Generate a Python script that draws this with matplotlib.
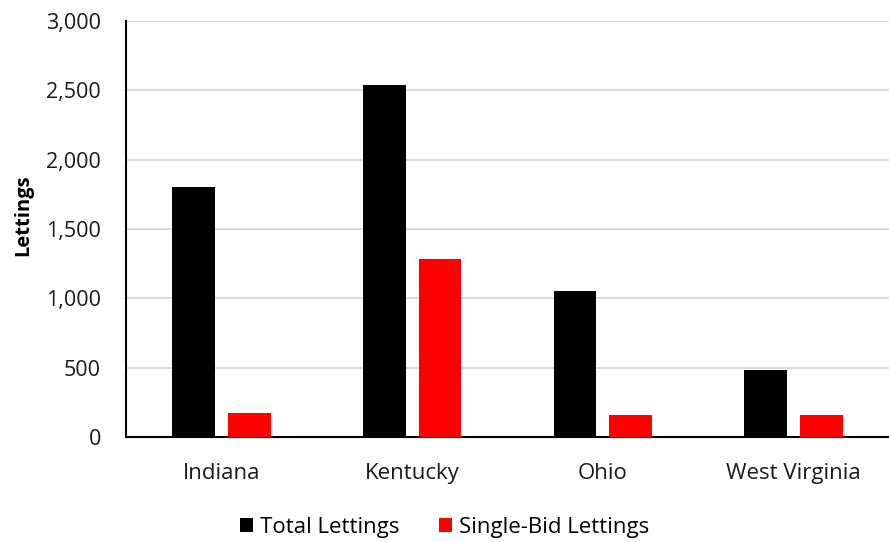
import matplotlib
matplotlib.use("Agg")
import matplotlib.pyplot as plt
import numpy as np
from matplotlib.ticker import FuncFormatter

states = ["Indiana", "Kentucky", "Ohio", "West Virginia"]
total_lettings = [1800, 2540, 1053, 480]
single_bid_lettings = [173, 1282, 162, 157]
series_names = ["Total Lettings", "Single-Bid Lettings"]
y_ticks = [0, 500, 1000, 1500, 2000, 2500, 3000]

plt.rcParams['font.family'] = ['Open Sans', 'DejaVu Sans']

fig = plt.figure(figsize=(8.89, 5.42), dpi=100)
ax = fig.add_axes([126/889, 1-437/542, (889-126)/889, (437-21)/542])

x = np.arange(len(states))
w = 0.225
off = 0.146
ax.bar(x - off, total_lettings, w, color="black", label=series_names[0], zorder=3)
ax.bar(x + off, single_bid_lettings, w, color="#ff0000", label=series_names[1], zorder=3)

ax.set_xlim(-0.5, len(states) - 0.5)
ax.set_ylim(0, 3000)
ax.set_yticks(y_ticks)
ax.yaxis.set_major_formatter(FuncFormatter(lambda v, p: f"{int(v):,}"))
ax.set_xticks(x)
ax.set_xticklabels(states)
ax.tick_params(axis='both', length=0, labelsize=16, colors="#1a1a1a")
ax.tick_params(axis='y', pad=18, labelsize=15.5)
ax.tick_params(axis='x', pad=19)
ax.grid(axis='y', color="#d9d9d9", linewidth=1.3, zorder=0)
ax.set_axisbelow(True)
for s in ["top", "right"]:
    ax.spines[s].set_visible(False)
ax.spines["left"].set_color("black")
ax.spines["left"].set_linewidth(1.5)
ax.spines["bottom"].set_color("black")
ax.spines["bottom"].set_linewidth(1.5)

ax.set_ylabel("Lettings", fontsize=14.5, fontweight="bold")
ax.yaxis.set_label_coords(-(126-33)/763, (437-215)/416)

fig.legend(loc="center", bbox_to_anchor=(0.5, 1-527/542), ncol=2, frameon=False,
           fontsize=16, handlelength=0.6, handleheight=0.6, handletextpad=0.3,
           columnspacing=1.8)

fig.savefig("out.png", dpi=100)
